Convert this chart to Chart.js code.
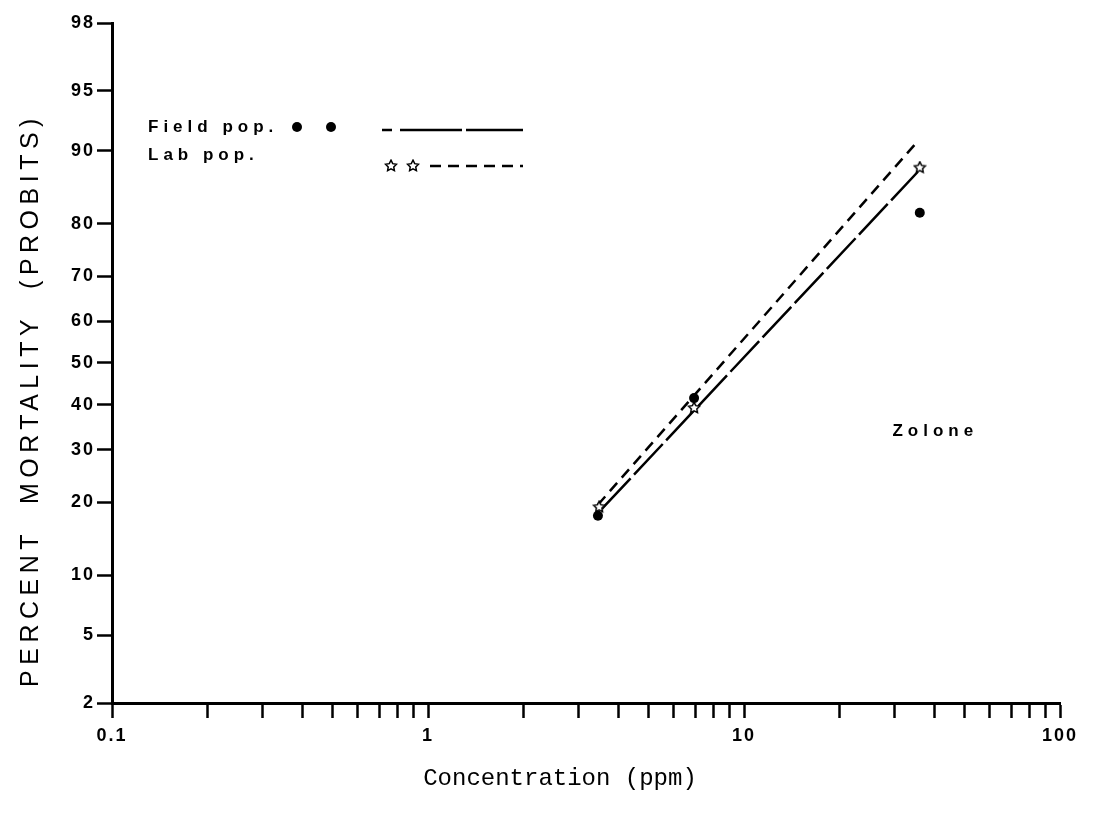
<!DOCTYPE html>
<html>
<head>
<meta charset="utf-8">
<title>Zolone probit plot</title>
<script src="https://cdn.jsdelivr.net/npm/chart.js@4.4.1/dist/chart.umd.min.js"></script>
<style>
  body { margin: 0; background: #fff; }
  canvas { display: block; }
</style>
</head>
<body>
<canvas id="probitChart" width="1094" height="823"></canvas>
<script>
var fieldConc = [3.45, 6.95, 36];
var fieldMort = [17.8, 41.6, 81.8];
var labConc = [3.48, 6.95, 36];
var labMort = [19.2, 39.3, 88.1];

// fitted probit lines, end points
var fieldLineConc = [3.55, 35.5];
var fieldLineMort = [18.9, 87.6];
var labLineConc = [3.45, 35.5];
var labLineMort = [19.6, 91.0];

// axis ticks
var xTickValues = [0.1, 0.2, 0.3, 0.4, 0.5, 0.6, 0.7, 0.8, 0.9,
  1, 2, 3, 4, 5, 6, 7, 8, 9,
  10, 20, 30, 40, 50, 60, 70, 80, 90, 100];
var xLabelValues = [0.1, 1, 10, 100];
var xLabelTexts = ["0.1", "1", "10", "100"];
var yTickValues = [2, 5, 10, 20, 30, 40, 50, 60, 70, 80, 90, 95, 98];

// inverse normal cdf (Acklam)
function probit(p) {
  var a = [-39.69683028665376, 220.9460984245205, -275.9285104469687, 138.3577518672690, -30.66479806614716, 2.506628277459239];
  var b = [-54.47609879822406, 161.5858368580409, -155.6989798598866, 66.80131188771972, -13.28068155288572];
  var c = [-0.007784894002430293, -0.3223964580411365, -2.400758277161838, -2.549732539343734, 4.374664141464968, 2.938163982698783];
  var d = [0.007784695709041462, 0.3224671290700398, 2.445134137142996, 3.754408661907416];
  var q, r;
  if (p < 0.02425) {
    q = Math.sqrt(-2 * Math.log(p));
    return (((((c[0] * q + c[1]) * q + c[2]) * q + c[3]) * q + c[4]) * q + c[5]) /
      ((((d[0] * q + d[1]) * q + d[2]) * q + d[3]) * q + 1);
  }
  if (p > 1 - 0.02425) {
    q = Math.sqrt(-2 * Math.log(1 - p));
    return -(((((c[0] * q + c[1]) * q + c[2]) * q + c[3]) * q + c[4]) * q + c[5]) /
      ((((d[0] * q + d[1]) * q + d[2]) * q + d[3]) * q + 1);
  }
  q = p - 0.5;
  r = q * q;
  return (((((a[0] * r + a[1]) * r + a[2]) * r + a[3]) * r + a[4]) * r + a[5]) * q /
    (((((b[0] * r + b[1]) * r + b[2]) * r + b[3]) * r + b[4]) * r + 1);
}

function normCdf(z) {
  var t = 1 / (1 + 0.3275911 * Math.abs(z) / Math.SQRT2);
  var y = 1 - (((((1.061405429 * t - 1.453152027) * t) + 1.421413741) * t - 0.284496736) * t + 0.254829592) * t *
    Math.exp(-z * z / 2);
  return z >= 0 ? 0.5 * (1 + y) : 0.5 * (1 - y);
}

// probability (probit) axis, values in percent
class ProbitScale extends Chart.LinearScale {
  determineDataLimits() {
    this.min = this.options.min;
    this.max = this.options.max;
  }
  buildTicks() {
    return yTickValues.map(function (v) { return { value: v }; });
  }
  configure() {
    super.configure();
    this._zMin = probit(this.min / 100);
    this._zMax = probit(this.max / 100);
  }
  getPixelForValue(value) {
    var z = probit(value / 100);
    return this.getPixelForDecimal((z - this._zMin) / (this._zMax - this._zMin));
  }
  getValueForPixel(pixel) {
    var dec = this.getDecimalForPixel(pixel);
    return normCdf(this._zMin + dec * (this._zMax - this._zMin)) * 100;
  }
}
ProbitScale.id = "probit";
ProbitScale.defaults = Chart.LinearScale.defaults;
Chart.register(ProbitScale);

// small hollow star marker
function makeStar(size) {
  var c = document.createElement("canvas");
  c.width = size;
  c.height = size;
  var g = c.getContext("2d");
  var cx = size / 2, cy = size / 2, ro = size / 2 - 1.2, ri = ro * 0.5;
  g.beginPath();
  for (var i = 0; i < 10; i++) {
    var r = i % 2 === 0 ? ro : ri;
    var ang = -Math.PI / 2 + i * Math.PI / 5;
    var px = cx + r * Math.cos(ang), py = cy + r * Math.sin(ang);
    if (i === 0) g.moveTo(px, py); else g.lineTo(px, py);
  }
  g.closePath();
  g.fillStyle = "#fff";
  g.fill();
  g.lineWidth = 1.5;
  g.strokeStyle = "#000";
  g.stroke();
  return c;
}
var starImg = makeStar(14);

function toPoints(xs, ys) {
  var pts = [];
  for (var i = 0; i < xs.length; i++) pts.push({ x: xs[i], y: ys[i] });
  return pts;
}

var FIELD_DASH = [42, 5];
var LAB_DASH = [11, 7];

var paperText = {
  id: "paperText",
  beforeDraw: function (chart) {
    chart.ctx.letterSpacing = "2px";
  },
  afterDraw: function (chart) {
    var ctx = chart.ctx;
    var area = chart.chartArea;
    var xs = chart.scales.x, ys = chart.scales.y;
    ctx.save();
    ctx.fillStyle = "#000";
    ctx.strokeStyle = "#000";

    // legend
    var lx = area.left + 36;
    var row1 = area.top + 104, row2 = area.top + 132;
    ctx.letterSpacing = "5px";
    ctx.font = "bold 17px 'Liberation Sans'";
    ctx.textAlign = "left";
    ctx.textBaseline = "middle";
    ctx.fillText("Field pop.", lx, row1);
    ctx.fillText("Lab pop.", lx, row2);
    [area.left + 185, area.left + 219].forEach(function (px) {
      ctx.beginPath();
      ctx.arc(px, row1, 5, 0, Math.PI * 2);
      ctx.fill();
    });
    ctx.lineWidth = 2.5;
    ctx.setLineDash([10, 8, 62, 4, 56, 0]);
    ctx.beginPath();
    ctx.moveTo(area.left + 270, row1 + 3);
    ctx.lineTo(area.left + 411, row1 + 3);
    ctx.stroke();
    ctx.drawImage(starImg, area.left + 279 - 7, row2 + 11 - 7);
    ctx.drawImage(starImg, area.left + 301 - 7, row2 + 11 - 7);
    ctx.setLineDash(LAB_DASH);
    ctx.beginPath();
    ctx.moveTo(area.left + 318, row2 + 11);
    ctx.lineTo(area.left + 411, row2 + 11);
    ctx.stroke();
    ctx.setLineDash([]);

    // compound name
    ctx.letterSpacing = "5px";
    ctx.font = "bold 17px 'Liberation Sans'";
    ctx.fillText("Zolone", xs.getPixelForValue(29.5), ys.getPixelForValue(34));

    // axis titles
    ctx.letterSpacing = "0px";
    ctx.font = "24px 'Liberation Mono'";
    ctx.textAlign = "center";
    ctx.fillText("Concentration (ppm)", 560, 779);

    ctx.translate(31, 400);
    ctx.rotate(-Math.PI / 2);
    ctx.letterSpacing = "5.5px";
    ctx.font = "25px 'Liberation Sans'";
    ctx.fillText("PERCENT  MORTALITY  (PROBITS)", 0, 0);
    ctx.restore();
    ctx.letterSpacing = "0px";
  }
};

var ctx = document.getElementById("probitChart").getContext("2d");
var chart = new Chart(ctx, {
  type: "scatter",
  data: {
    datasets: [
      {
        label: "Field pop.",
        data: toPoints(fieldConc, fieldMort),
        pointStyle: "circle",
        pointRadius: 5,
        backgroundColor: "#000",
        borderColor: "#000",
        borderWidth: 0,
      },
      {
        label: "Lab pop.",
        data: toPoints(labConc, labMort),
        pointStyle: starImg,
        pointRadius: 6,
      },
      {
        label: "Field line",
        data: toPoints(fieldLineConc, fieldLineMort),
        showLine: true,
        borderColor: "#000",
        borderWidth: 2.5,
        borderDash: FIELD_DASH,
        pointRadius: 0,
      },
      {
        label: "Lab line",
        data: toPoints(labLineConc, labLineMort),
        showLine: true,
        borderColor: "#000",
        borderWidth: 2.5,
        borderDash: LAB_DASH,
        pointRadius: 0,
      },
    ],
  },
  plugins: [paperText],
  options: {
    responsive: false,
    animation: false,
    layout: { padding: { top: 23, right: 34, left: 0, bottom: 0 } },
    plugins: {
      legend: { display: false },
      tooltip: { enabled: false },
    },
    scales: {
      x: {
        type: "logarithmic",
        min: 0.1,
        max: 100,
        afterBuildTicks: function (scale) {
          scale.ticks = xTickValues.map(function (v) { return { value: v }; });
        },
        afterFit: function (scale) { scale.height = 120; },
        border: { display: true, color: "#000", width: 3 },
        grid: { drawOnChartArea: false, drawTicks: true, tickLength: 15, tickWidth: 2.5, tickColor: "#000", color: "#000" },
        ticks: {
          autoSkip: false,
          maxRotation: 0,
          padding: 7,
          color: "#000",
          font: { family: "'Liberation Sans'", size: 18, weight: "bold" },
          callback: function (value) {
            var i = xLabelValues.indexOf(value);
            return i >= 0 ? xLabelTexts[i] : "";
          },
        },
      },
      y: {
        type: "probit",
        min: 2,
        max: 98,
        afterFit: function (scale) { scale.width = 112; },
        border: { display: true, color: "#000", width: 3 },
        grid: { drawOnChartArea: false, drawTicks: true, tickLength: 15, tickWidth: 2.5, tickColor: "#000", color: "#000" },
        ticks: {
          autoSkip: false,
          padding: 2,
          color: "#000",
          font: { family: "'Liberation Sans'", size: 18, weight: "bold" },
          callback: function (value) { return String(value); },
        },
      },
    },
  },
});
</script>
</body>
</html>
